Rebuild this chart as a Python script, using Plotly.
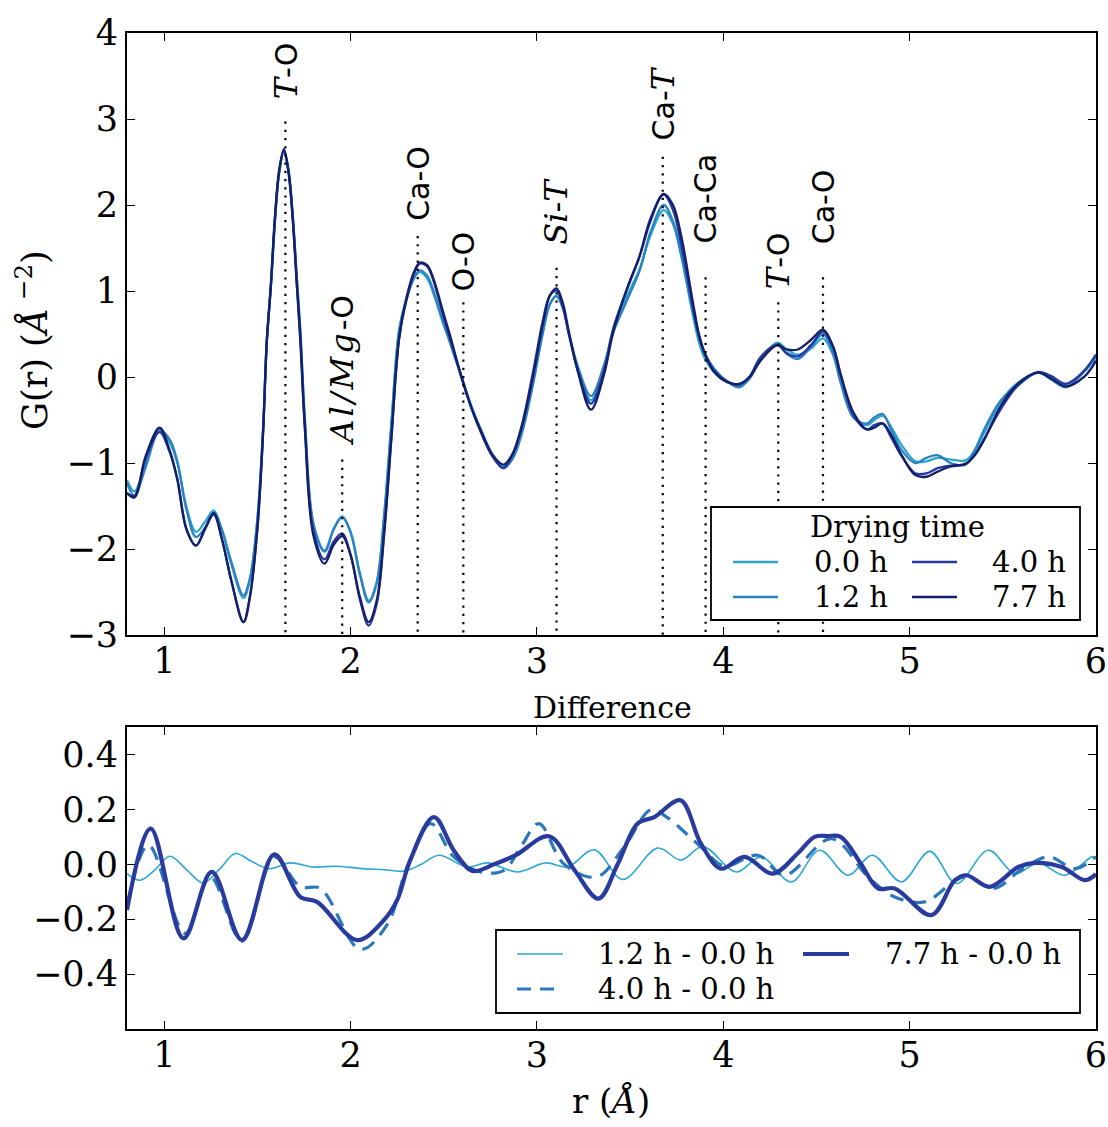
import plotly.graph_objects as go

# ---------------------------------------------------------------------------
# G(r) for the four drying times, sampled on a shared r grid (Å)
# ---------------------------------------------------------------------------
R_TOP = [0.80, 0.84, 0.90, 0.975, 1.03, 1.07, 1.12, 1.17, 1.22, 1.265,
         1.31, 1.36, 1.425, 1.46, 1.50, 1.53, 1.55, 1.572, 1.594, 1.617,
         1.642, 1.667, 1.69, 1.712, 1.73, 1.755, 1.80, 1.86, 1.91, 1.955,
         2.00, 2.05, 2.097, 2.14, 2.18, 2.22, 2.26, 2.30, 2.34, 2.372,
         2.41, 2.44, 2.50, 2.53, 2.60, 2.65, 2.70, 2.76, 2.82, 2.87,
         2.92, 2.98, 3.03, 3.07, 3.105, 3.14, 3.17, 3.22, 3.29, 3.36,
         3.41, 3.485, 3.55, 3.61, 3.68, 3.73, 3.775, 3.835, 3.87, 3.90,
         3.95, 4.02, 4.085, 4.14, 4.20, 4.29, 4.34, 4.40, 4.47, 4.535,
         4.59, 4.63, 4.70, 4.77, 4.81, 4.855, 4.90, 4.96, 5.03, 5.09,
         5.15, 5.22, 5.30, 5.35, 5.40, 5.49, 5.58, 5.69, 5.76, 5.84,
         5.94, 6.00]

G_00H = [-1.20, -1.33, -1.00, -0.61, -0.76, -1.00, -1.52, -1.80, -1.68, -1.55,
         -1.78, -2.18, -2.57, -2.35, -1.64, -0.60, 0.42, 1.05, 1.82, 2.38,
         2.63, 2.39, 1.86, 1.13, 0.55, -0.50, -1.70, -2.02, -1.76, -1.62,
         -1.80, -2.28, -2.60, -2.38, -1.60, -0.50, 0.55, 0.92, 1.15, 1.22,
         1.15, 1.00, 0.60, 0.42, -0.03, -0.35, -0.62, -0.90, -1.04, -0.92,
         -0.62, -0.06, 0.50, 0.85, 0.94, 0.80, 0.52, 0.10, -0.27, 0.12,
         0.55, 0.95, 1.25, 1.65, 1.94, 1.78, 1.40, 0.74, 0.40, 0.22,
         0.06, -0.05, -0.10, -0.02, 0.20, 0.40, 0.32, 0.26, 0.33, 0.45,
         0.25, -0.05, -0.45, -0.56, -0.50, -0.45, -0.58, -0.80, -0.98, -0.98,
         -0.94, -0.96, -0.97, -0.85, -0.65, -0.28, -0.07, 0.05, -0.01, -0.08,
         0.07, 0.23]

G_12H = [-1.23, -1.38, -1.05, -0.62, -0.73, -0.98, -1.55, -1.86, -1.75, -1.59,
         -1.78, -2.15, -2.54, -2.34, -1.65, -0.62, 0.40, 1.04, 1.81, 2.38,
         2.63, 2.40, 1.86, 1.12, 0.54, -0.51, -1.71, -2.03, -1.77, -1.63,
         -1.81, -2.30, -2.62, -2.40, -1.62, -0.52, 0.52, 0.90, 1.15, 1.24,
         1.18, 1.03, 0.62, 0.43, -0.04, -0.36, -0.62, -0.90, -1.06, -0.95,
         -0.65, -0.07, 0.50, 0.85, 0.94, 0.79, 0.51, 0.12, -0.22, 0.14,
         0.52, 0.90, 1.23, 1.69, 2.00, 1.81, 1.42, 0.78, 0.46, 0.28,
         0.10, -0.05, -0.12, -0.02, 0.23, 0.38, 0.27, 0.21, 0.35, 0.50,
         0.27, -0.07, -0.48, -0.54, -0.47, -0.43, -0.61, -0.86, -1.00, -0.94,
         -0.91, -1.00, -1.02, -0.85, -0.61, -0.27, -0.10, 0.05, -0.03, -0.12,
         0.08, 0.26]

G_40H = [-1.35, -1.38, -0.95, -0.64, -0.88, -1.19, -1.77, -1.96, -1.76, -1.60,
         -1.89, -2.37, -2.85, -2.55, -1.75, -0.65, 0.41, 1.07, 1.85, 2.40,
         2.63, 2.37, 1.81, 1.06, 0.47, -0.59, -1.79, -2.12, -1.91, -1.82,
         -2.07, -2.59, -2.89, -2.64, -1.83, -0.68, 0.45, 0.90, 1.20, 1.32,
         1.29, 1.15, 0.69, 0.47, -0.03, -0.37, -0.65, -0.92, -1.06, -0.90,
         -0.55, 0.07, 0.64, 0.95, 1.00, 0.81, 0.51, 0.07, -0.31, 0.08,
         0.57, 1.03, 1.40, 1.85, 2.12, 1.94, 1.53, 0.83, 0.47, 0.27,
         0.08, -0.05, -0.09, 0.00, 0.23, 0.37, 0.28, 0.24, 0.37, 0.53,
         0.34, 0.02, -0.45, -0.61, -0.56, -0.54, -0.70, -0.93, -1.12, -1.12,
         -1.06, -1.03, -1.01, -0.90, -0.72, -0.37, -0.10, 0.06, 0.01, -0.08,
         0.08, 0.26]

G_77H = [-1.35, -1.40, -0.92, -0.59, -0.86, -1.19, -1.78, -1.96, -1.76, -1.58,
         -1.89, -2.37, -2.85, -2.55, -1.76, -0.67, 0.40, 1.07, 1.86, 2.41,
         2.65, 2.39, 1.83, 1.05, 0.43, -0.62, -1.84, -2.17, -1.95, -1.85,
         -2.07, -2.56, -2.85, -2.60, -1.80, -0.67, 0.44, 0.92, 1.22, 1.33,
         1.30, 1.17, 0.73, 0.51, -0.04, -0.37, -0.63, -0.90, -1.02, -0.89,
         -0.57, 0.02, 0.60, 0.95, 1.03, 0.85, 0.54, 0.06, -0.38, 0.03,
         0.53, 1.04, 1.40, 1.82, 2.13, 2.00, 1.63, 0.89, 0.49, 0.28,
         0.06, -0.06, -0.08, 0.00, 0.19, 0.37, 0.32, 0.32, 0.43, 0.55,
         0.35, 0.03, -0.42, -0.61, -0.59, -0.54, -0.67, -0.92, -1.14, -1.16,
         -1.10, -1.04, -1.01, -0.91, -0.73, -0.33, -0.08, 0.05, -0.02, -0.11,
         0.01, 0.19]

DRYING_LABELS = ["0.0 h", "1.2 h", "4.0 h", "7.7 h"]

# ---------------------------------------------------------------------------
# Difference curves relative to 0.0 h
# ---------------------------------------------------------------------------
R_D12 = [0.80, 0.87, 0.95, 1.031, 1.12, 1.21, 1.30, 1.381, 1.47, 1.56,
         1.676, 1.80, 1.92, 2.05, 2.18, 2.286, 2.38, 2.474, 2.626, 2.734,
         2.895, 3.047, 3.164, 3.307, 3.46, 3.648, 3.773, 3.89, 4.069, 4.203,
         4.365, 4.517, 4.669, 4.80, 4.956, 5.108, 5.252, 5.422, 5.565, 5.69,
         5.834, 5.977, 6.00]
D_12 = [-0.034, -0.058, -0.02, 0.029, -0.02, -0.068, -0.015, 0.039, 0.01, -0.016,
        0.005, -0.01, -0.007, -0.015, -0.02, -0.025, 0.0, 0.033, -0.01, 0.005,
        -0.028, 0.005, -0.01, 0.053, -0.055, 0.059, 0.015, 0.065, -0.028, 0.027,
        -0.064, 0.051, -0.04, 0.033, -0.064, 0.047, -0.07, 0.051, -0.034, 0.005,
        -0.04, 0.027, 0.026]

R_D40 = [0.80, 0.915, 1.112, 1.246, 1.417, 1.59, 1.73, 1.838, 2.052, 2.196,
         2.304, 2.43, 2.554, 2.698, 2.823, 2.913, 3.01, 3.146, 3.32, 3.468,
         3.612, 3.70, 3.88, 4.006, 4.185, 4.328, 4.58, 4.777, 4.92, 5.08,
         5.243, 5.31, 5.45, 5.60, 5.745, 5.888, 6.00]
D_40 = [-0.15, 0.07, -0.252, -0.046, -0.28, 0.027, -0.082, -0.088, -0.31, -0.22,
        -0.01, 0.148, 0.027, -0.028, -0.022, 0.063, 0.148, 0.0, -0.046, 0.063,
        0.199, 0.17, 0.063, -0.006, 0.033, -0.04, 0.093, -0.046, -0.119, -0.137,
        -0.06, -0.045, -0.088, -0.02, 0.027, -0.016, 0.027]

R_D77 = [0.80, 0.927, 1.103, 1.255, 1.417, 1.59, 1.73, 1.82, 2.035, 2.178,
         2.25, 2.32, 2.447, 2.554, 2.653, 2.77, 2.886, 3.065, 3.20, 3.33,
         3.433, 3.54, 3.63, 3.77, 3.88, 3.988, 4.113, 4.266, 4.40, 4.49,
         4.56, 4.63, 4.74, 4.83, 4.92, 5.117, 5.243, 5.305, 5.43, 5.583,
         5.673, 5.816, 5.941, 6.00]
D_77 = [-0.167, 0.13, -0.27, -0.028, -0.276, 0.036, -0.119, -0.137, -0.276, -0.204,
        -0.13, 0.015, 0.172, 0.05, -0.024, 0.0, 0.033, 0.102, -0.02, -0.125,
        0.0, 0.148, 0.172, 0.233, 0.075, -0.016, 0.027, -0.034, 0.04, 0.10,
        0.103, 0.10, 0.0, -0.088, -0.088, -0.185, -0.058, -0.04, -0.082, -0.01,
        0.005, -0.01, -0.058, -0.036]

DIFF_LABELS = ["1.2 h - 0.0 h", "4.0 h - 0.0 h", "7.7 h - 0.0 h"]

# ---------------------------------------------------------------------------
# Pair-distance assignments (position, top of marker line, label baseline)
# ---------------------------------------------------------------------------
PEAK_NAMES = [("T", "-O"), ("Al/Mg", "-O"), ("", "Ca-O"), ("", "O-O"),
              ("Si", "-T"), ("", "Ca-T"), ("", "Ca-Ca"), ("T", "-O"), ("", "Ca-O")]
PEAK_R = [1.65, 1.955, 2.36, 2.605, 3.105, 3.675, 3.905, 4.295, 4.535]
PEAK_TOP = [2.97, -0.96, 1.64, 0.87, 1.27, 2.56, 1.16, 0.87, 1.16]
LABEL_BASE = [3.205, -0.825, 1.795, 0.975, 1.515, 2.725, 1.525, 0.995, 1.515]

X_TICKS = [1, 2, 3, 4, 5, 6]
G_TICKS = [-3, -2, -1, 0, 1, 2, 3, 4]
D_TICKS = [-0.4, -0.2, 0.0, 0.2, 0.4]

# ---------------------------------------------------------------------------
# Styling
# ---------------------------------------------------------------------------
SERIF = "DejaVu Serif"
SANS = "DejaVu Sans"
W, H = 1108, 1127
PL, PR, PT, PB = 127, 1096, 33, 1029          # plot-area pixel box
TOP_DOMAIN = [(PB - 635) / (PB - PT), 1.0]
BOT_DOMAIN = [0.0, (PB - 727) / (PB - PT)]
X_RANGE = [0.8, 6.0]
G_RANGE = [-3, 4]
D_RANGE = [-0.6, 0.5]

DRY_COLORS = ["#2ba5d0", "#2b81c1", "#27389f", "#131f68"]
DIFF_COLORS = ["#2ea8d2", "#2a78bb", "#2a3b9e"]
DIFF_WIDTHS = [1.6, 3.2, 4.2]
DIFF_DASH = ["solid", "14px,9px", "solid"]


def fx(px):
    return (px - PL) / (PR - PL)


def fy(py):
    return (PB - py) / (PB - PT)


def math_it(s, spacing=0):
    style = "font-family:%s;font-size:32px" % SERIF
    if spacing:
        style += ";letter-spacing:%dpx" % spacing
    return '<span style="%s"><i>%s</i></span>' % (style, s)


def peak_text(pair):
    lead, rest = pair
    if rest.endswith("T") and not lead and rest.startswith("Ca"):
        return "Ca-" + math_it("T")
    if lead and rest == "-T":
        return math_it(lead) + "-" + math_it("T")
    if lead:
        return math_it(lead, 3 if len(lead) > 2 else 0) + rest
    return rest


fig = go.Figure()

# G(r) curves
for g, name, col in zip([G_00H, G_12H, G_40H, G_77H], DRYING_LABELS, DRY_COLORS):
    fig.add_trace(go.Scatter(x=R_TOP, y=g, mode="lines", name=name,
                             line=dict(color=col, width=2.3, shape="spline", smoothing=1.0),
                             xaxis="x", yaxis="y", showlegend=False))

# dotted assignment markers
mx, my = [], []
for r, top in zip(PEAK_R, PEAK_TOP):
    mx += [r, r, None]
    my += [top, G_RANGE[0], None]
fig.add_trace(go.Scatter(x=mx, y=my, mode="lines", showlegend=False,
                         line=dict(color="black", width=2.2, dash="2.2px,6px"),
                         xaxis="x", yaxis="y"))

# difference curves
for rr, dd, name, col, w, dash in zip([R_D12, R_D40, R_D77], [D_12, D_40, D_77],
                                      DIFF_LABELS, DIFF_COLORS, DIFF_WIDTHS, DIFF_DASH):
    fig.add_trace(go.Scatter(x=rr, y=dd, mode="lines", name=name,
                             line=dict(color=col, width=w, dash=dash, shape="spline", smoothing=1.0),
                             xaxis="x2", yaxis="y2", showlegend=False))

axis_common = dict(showline=True, linecolor="black", linewidth=2, mirror="ticks",
                   ticks="inside", ticklen=8, tickwidth=1.3, tickcolor="black",
                   showgrid=False, zeroline=False, automargin=False,
                   tickfont=dict(family=SERIF, size=35, color="black"))

fig.update_layout(
    width=W, height=H, autosize=False,
    margin=dict(l=PL, r=W - PR, t=PT, b=H - PB, pad=0),
    paper_bgcolor="white", plot_bgcolor="white",
    xaxis=dict(domain=[0, 1], anchor="y", range=X_RANGE, tickvals=X_TICKS,
               ticklabelstandoff=-6, **axis_common),
    yaxis=dict(domain=TOP_DOMAIN, anchor="x", range=G_RANGE, tickvals=G_TICKS, **axis_common),
    xaxis2=dict(domain=[0, 1], anchor="y2", range=X_RANGE, tickvals=X_TICKS,
                ticklabelstandoff=-6, **axis_common),
    yaxis2=dict(domain=BOT_DOMAIN, anchor="x2", range=D_RANGE, tickvals=D_TICKS,
                tickformat=".1f", **axis_common),
    showlegend=False,
)

annotations = []
# assignment labels
for pair, r, base in zip(PEAK_NAMES, PEAK_R, LABEL_BASE):
    annotations.append(dict(x=r, y=base, xref="x", yref="y", text=peak_text(pair),
                            textangle=-90, showarrow=False, xanchor="center", yanchor="bottom",
                            font=dict(family=SANS, size=30, color="black")))

# axis titles and panel title
annotations.append(dict(x=fx(32), y=fy(340), xref="paper", yref="paper",
                        text="G(r) (<i>Å</i><sup> −2</sup>)", textangle=-90, showarrow=False,
                        xanchor="center", yanchor="middle",
                        font=dict(family=SERIF, size=35, color="black")))
annotations.append(dict(x=fx(611), y=fy(1101), xref="paper", yref="paper",
                        text="r (<i>Å</i>)", showarrow=False,
                        xanchor="center", yanchor="middle",
                        font=dict(family=SERIF, size=34, color="black")))
annotations.append(dict(x=fx(612), y=fy(707), xref="paper", yref="paper",
                        text="Difference", showarrow=False,
                        xanchor="center", yanchor="middle",
                        font=dict(family=SERIF, size=30, color="black")))

shapes = []
LEG_FONT = dict(family=SERIF, size=29, color="black")

# legend for drying time (two columns)
shapes.append(dict(type="rect", xref="paper", yref="paper", layer="above",
                   x0=fx(711), x1=fx(1080), y0=fy(620), y1=fy(507),
                   line=dict(color="black", width=1.8), fillcolor="white"))
annotations.append(dict(x=fx(897), y=fy(527), xref="paper", yref="paper", text="Drying time",
                        showarrow=False, xanchor="center", yanchor="middle", font=LEG_FONT))
top_slots = [(733, 812, 562), (733, 812, 597), (912, 990, 562), (912, 990, 597)]
for (x0, xt, yy), name, col in zip(top_slots, DRYING_LABELS, DRY_COLORS):
    shapes.append(dict(type="line", xref="paper", yref="paper", layer="above",
                       x0=fx(x0), x1=fx(x0 + 45), y0=fy(yy), y1=fy(yy),
                       line=dict(color=col, width=2.3)))
    annotations.append(dict(x=fx(xt), y=fy(yy), xref="paper", yref="paper", text=name,
                            showarrow=False, xanchor="left", yanchor="middle", font=LEG_FONT))

# legend for the difference panel
shapes.append(dict(type="rect", xref="paper", yref="paper", layer="above",
                   x0=fx(496), x1=fx(1080), y0=fy(1013), y1=fy(930),
                   line=dict(color="black", width=1.8), fillcolor="white"))
bot_slots = [(517, 596, 954), (517, 596, 989), (803, 883, 954)]
for (x0, xt, yy), name, col, w, dash in zip(bot_slots, DIFF_LABELS, DIFF_COLORS,
                                            DIFF_WIDTHS, DIFF_DASH):
    shapes.append(dict(type="line", xref="paper", yref="paper", layer="above",
                       x0=fx(x0), x1=fx(x0 + 46), y0=fy(yy), y1=fy(yy),
                       line=dict(color=col, width=w, dash=dash)))
    annotations.append(dict(x=fx(xt), y=fy(yy), xref="paper", yref="paper", text=name,
                            showarrow=False, xanchor="left", yanchor="middle", font=LEG_FONT))

fig.update_layout(annotations=annotations, shapes=shapes)

fig.write_html(
    "out.html",
    config={"responsive": False},
    default_width="%dpx" % W,
    default_height="%dpx" % H,
    post_script="document.body.style.margin='0';document.body.style.overflow='hidden';",
)
